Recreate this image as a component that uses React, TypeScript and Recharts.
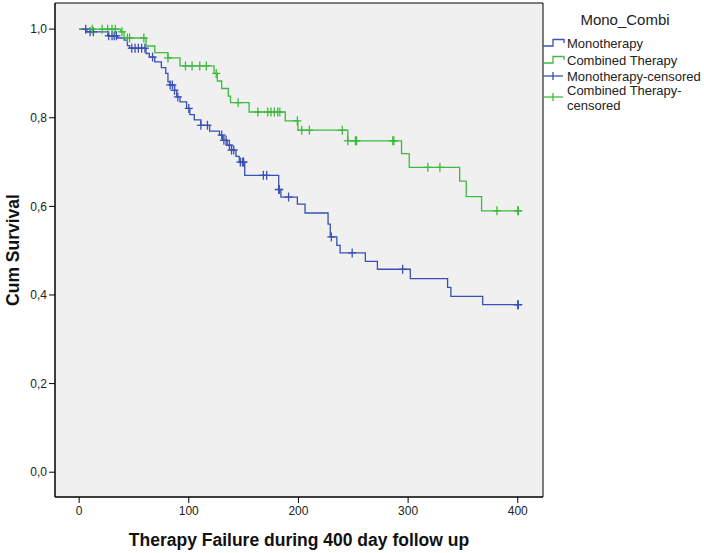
import React from 'react';
import { ComposedChart, Line, Scatter, XAxis, YAxis, CartesianGrid, ReferenceArea } from 'recharts';

// Kaplan-Meier steps (day, cumulative survival)
const MONO_DAYS = [0, 7, 26, 35, 41, 44, 46, 61, 64, 69, 75, 79, 81, 83, 87, 89, 92, 98, 101, 105, 111, 119, 128, 131, 135, 139, 143, 146, 151, 182, 184, 199, 206, 227, 229, 235, 238, 261, 272, 302, 336, 339, 368, 401];
const MONO_SURV = [1.0, 0.994, 0.985, 0.98, 0.975, 0.963, 0.957, 0.945, 0.937, 0.926, 0.913, 0.9, 0.881, 0.874, 0.862, 0.847, 0.836, 0.821, 0.807, 0.795, 0.783, 0.77, 0.761, 0.749, 0.738, 0.727, 0.713, 0.7, 0.67, 0.638, 0.621, 0.605, 0.585, 0.56, 0.531, 0.512, 0.495, 0.476, 0.458, 0.437, 0.417, 0.397, 0.378, 0.378];
const MONO_CENSOR = [6, 10, 13, 27, 30, 32, 34, 48, 51, 54, 57, 60, 67, 83, 85, 87, 90, 100, 111, 117, 130, 132, 134, 137, 139, 141, 147, 149, 150, 168, 171, 182, 182.5, 191, 230, 249, 295, 400, 400.5];

const COMBI_DAYS = [0, 38, 41, 61, 69, 81, 92, 123, 126, 130, 136, 138, 155, 188, 199.5, 245, 294, 301, 347, 353, 367, 401];
const COMBI_SURV = [1.0, 0.994, 0.98, 0.962, 0.947, 0.935, 0.917, 0.9, 0.883, 0.866, 0.849, 0.834, 0.813, 0.793, 0.772, 0.748, 0.719, 0.688, 0.657, 0.622, 0.59, 0.59];
const COMBI_CENSOR = [12, 21, 26, 30, 33, 39, 44, 46, 59, 81, 97, 103, 110, 116, 125, 145, 163, 172, 175, 178, 181, 183, 199, 203, 210, 240, 245, 252, 253, 286, 287, 318, 329, 381, 400, 400.5];

const X_TICKS = [0, 100, 200, 300, 400];
const Y_TICKS = [0, 0.2, 0.4, 0.6, 0.8, 1.0];

const BLUE = '#3A50B2';
const GREEN = '#3DBB3D';
const FONT = '"Liberation Sans", Arial, sans-serif';

const toSteps = (days: number[], surv: number[]) => days.map((d, i) => ({ x: d, y: surv[i] }));

// survival value of the step curve at a given day (for placing censor marks on the line)
const valueAt = (days: number[], surv: number[], day: number) => {
  let v = surv[0];
  for (let i = 0; i < days.length; i++) if (days[i] <= day) v = surv[i];
  return v;
};
const toCensor = (days: number[], surv: number[], cens: number[]) => cens.map((d) => ({ x: d, y: valueAt(days, surv, d) }));

const monoSteps = toSteps(MONO_DAYS, MONO_SURV);
const combiSteps = toSteps(COMBI_DAYS, COMBI_SURV);
const monoCens = toCensor(MONO_DAYS, MONO_SURV, MONO_CENSOR);
const combiCens = toCensor(COMBI_DAYS, COMBI_SURV, COMBI_CENSOR);

const cross = (color: string) => (props: any) => {
  const { cx, cy } = props;
  if (cx == null || cy == null) return <g />;
  return (
    <g stroke={color} strokeWidth={1.3}>
      <line x1={cx - 4} x2={cx + 4} y1={cy} y2={cy} />
      <line x1={cx} x2={cx} y1={cy - 4.5} y2={cy + 4.5} />
    </g>
  );
};

const fmtY = (v: number) => v.toFixed(1).replace('.', ',');

export default function App() {
  return (
    <div style={{ position: 'absolute', left: 0, top: 0, width: 704, height: 553, background: '#fff', fontFamily: FONT }}>
      <ComposedChart width={704} height={553} margin={{ top: 3, right: 161, left: 5, bottom: 16 }}>
        <CartesianGrid fill="#F0F0F0" horizontal={false} vertical={false} />
        <XAxis
          dataKey="x"
          type="number"
          domain={[-22, 423]}
          ticks={X_TICKS}
          allowDataOverflow
          height={40}
          stroke="#000"
          tickSize={6}
          tickMargin={3}
          tick={{ fill: '#222', fontSize: 12, fontFamily: FONT }}
          label={{
            content: () => (
              <text x={299} y={546} textAnchor="middle" fontSize={17.5} fontWeight="bold" fill="#111" fontFamily={FONT}>
                Therapy Failure during 400 day follow up
              </text>
            ),
          }}
        />
        <YAxis
          dataKey="y"
          type="number"
          domain={[-0.056, 1.059]}
          ticks={Y_TICKS}
          allowDataOverflow
          width={50}
          stroke="#000"
          tickSize={6}
          tickMargin={2}
          tickFormatter={fmtY}
          tick={{ fill: '#222', fontSize: 12, fontFamily: FONT }}
          label={{
            content: () => (
              <text x={19} y={250} transform="rotate(-90 19 250)" textAnchor="middle" fontSize={17.5} fontWeight="bold" fill="#111" fontFamily={FONT}>
                Cum Survival
              </text>
            ),
          }}
        />
        <ReferenceArea x1={-22} x2={423} y1={-0.056} y2={1.059} fill="none" stroke="#000" strokeWidth={1} ifOverflow="visible" />
        <Line data={monoSteps} dataKey="y" type="stepAfter" stroke={BLUE} strokeWidth={1.3} dot={false} isAnimationActive={false} />
        <Line data={combiSteps} dataKey="y" type="stepAfter" stroke={GREEN} strokeWidth={1.3} dot={false} isAnimationActive={false} />
        <Scatter data={monoCens} shape={cross(BLUE)} isAnimationActive={false} />
        <Scatter data={combiCens} shape={cross(GREEN)} isAnimationActive={false} />
      </ComposedChart>
      <svg width={704} height={553} style={{ position: 'absolute', left: 0, top: 0, pointerEvents: 'none' }} fontFamily={FONT}>
        <text x={625} y={25} textAnchor="middle" fontSize={15} fill="#222">Mono_Combi</text>
        <path d="M543,46 H553 V39.5 H564 V43" fill="none" stroke={BLUE} strokeWidth={1.3} />
        <text x={567} y={47.5} fontSize={13} fill="#222">Monotherapy</text>
        <path d="M543,63 H553 V56.5 H564 V60" fill="none" stroke={GREEN} strokeWidth={1.3} />
        <text x={567} y={64.5} fontSize={13} fill="#222">Combined Therapy</text>
        <g stroke={BLUE} strokeWidth={1.3}>
          <line x1={543} x2={563} y1={76} y2={76} />
          <line x1={553} x2={553} y1={72} y2={80} />
        </g>
        <text x={567} y={80.5} fontSize={13} fill="#222">Monotherapy-censored</text>
        <g stroke={GREEN} strokeWidth={1.3}>
          <line x1={543} x2={563} y1={97} y2={97} />
          <line x1={553} x2={553} y1={93} y2={101} />
        </g>
        <text x={567} y={94.5} fontSize={13} fill="#222">Combined Therapy-</text>
        <text x={567} y={109.5} fontSize={13} fill="#222">censored</text>
      </svg>
    </div>
  );
}
